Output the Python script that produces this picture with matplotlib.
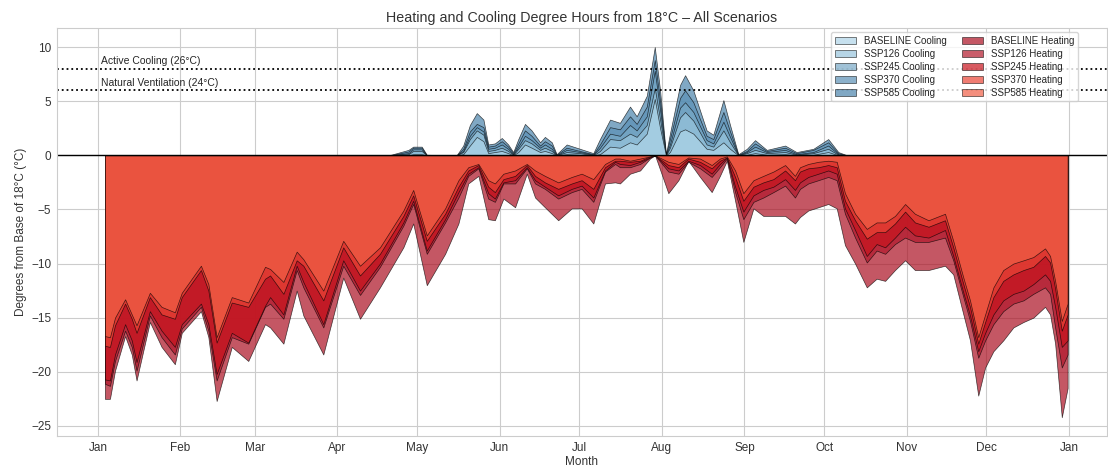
import matplotlib
matplotlib.use("Agg")
import matplotlib.pyplot as plt
import seaborn as sns

sns.set_style("whitegrid")
plt.rcParams['font.family'] = ['Liberation Sans', 'DejaVu Sans']

# ---------------- data ----------------
scenarios = ["BASELINE", "SSP126", "SSP245", "SSP370", "SSP585"]
month_ticks = [0, 31, 59, 90, 120, 151, 181, 212, 243, 273, 304, 334, 365]
month_labels = ["Jan", "Feb", "Mar", "Apr", "May", "Jun", "Jul", "Aug",
                "Sep", "Oct", "Nov", "Dec", "Jan"]

heat_days = [2.6, 4.5, 6.4, 10.2, 12.7, 14.5, 19.5, 23.9, 28.9, 31.5, 38.7, 41.5, 44.6, 50.3, 56.5, 62.8,
             64.7, 69.7, 74.7, 77.2, 84.7, 92.2, 98.5, 106.0, 114.8, 118.5, 123.6,
             130.5, 135.5, 139.2, 143.0, 146.7, 149.2, 152.4, 156.8, 161.2, 164.3, 168.0, 173.0, 178.1, 181.8, 186.2, 190.6, 194.4,
             196.2, 200.0, 203.8, 207.5, 209.4, 214.4, 218.2, 221.9, 226.3, 230.7, 233.8, 236.4, 239.5, 242.6, 246.4, 250.1, 253.9, 258.3,
             262.0, 263.9, 267.0, 270.8, 274.5, 277.7, 280.8, 284.6, 289.0, 292.7, 295.9, 299.6, 303.4, 307.1, 312.2, 318.4,
             321.5, 325.3, 327.8, 330.9, 333.5, 336.6, 340.3, 344.1, 347.9, 351.6, 356.0, 357.9, 359.8, 362.3, 364.5]

heat_baseline = [-22.5, -22.5, -19.9, -16.7, -18.4, -20.8, -15.4, -17.7, -19.3, -16.4, -14.4, -16.8, -22.7, -17.7, -19.0, -15.6,
                 -15.9, -17.4, -12.5, -14.8, -18.4, -11.3, -15.1, -12.2, -8.5, -6.3, -12.0,
                 -9.1, -6.3, -2.6, -1.9, -5.9, -6.0, -4.0, -4.8, -1.7, -3.9, -4.8, -6.0, -4.9, -4.9, -6.3, -2.6, -2.5,
                 -2.6, -1.7, -1.4, -0.3, 0.0, -3.5, -2.3, -0.5, -2.0, -3.4, -1.9, -0.5, -4.2, -8.0, -4.9, -5.6, -5.6, -5.6,
                 -6.3, -5.7, -5.1, -4.8, -4.5, -4.9, -8.3, -10.0, -12.2, -11.4, -11.6, -10.6, -9.7, -10.6, -10.6, -10.2,
                 -11.0, -14.7, -17.1, -22.2, -19.6, -18.1, -17.1, -15.9, -15.4, -15.0, -14.0, -14.7, -17.4, -24.2, -21.5]
heat_ssp126 = [-21.1, -21.3, -19.0, -16.2, -17.7, -19.9, -14.8, -16.8, -18.4, -16.0, -14.0, -16.2, -20.8, -16.8, -17.4, -14.0,
               -13.7, -15.1, -10.6, -12.2, -15.9, -10.2, -12.9, -10.3, -6.5, -4.5, -9.1,
               -6.2, -3.9, -1.9, -1.2, -4.0, -4.3, -2.6, -2.6, -1.2, -2.6, -3.1, -4.0, -3.4, -3.1, -4.3, -1.5, -0.8,
               -1.1, -1.1, -0.8, -0.2, 0.0, -1.5, -1.7, -0.6, -1.2, -2.0, -1.1, -0.3, -3.4, -5.9, -4.3, -3.9, -3.4, -2.8,
               -3.9, -3.1, -2.6, -2.3, -2.0, -2.3, -5.4, -7.6, -9.9, -8.8, -9.1, -8.2, -7.6, -8.0, -8.0, -7.6,
               -9.7, -13.1, -15.3, -18.7, -17.1, -15.6, -14.4, -13.7, -13.4, -12.8, -12.2, -12.8, -15.9, -19.6, -18.4]
heat_ssp245 = [-20.7, -20.8, -18.4, -15.6, -17.1, -19.1, -14.4, -16.2, -17.7, -15.6, -13.7, -15.6, -20.2, -16.4, -17.3, -13.9,
               -13.1, -14.7, -10.2, -11.7, -15.6, -9.7, -12.5, -10.0, -6.2, -4.2, -8.8,
               -5.9, -3.4, -1.7, -1.1, -3.5, -4.0, -2.5, -2.3, -1.1, -2.3, -2.9, -3.7, -3.1, -2.8, -3.9, -1.4, -0.6,
               -0.8, -0.9, -0.6, -0.2, 0.0, -1.2, -1.4, -0.5, -0.9, -1.7, -0.8, -0.2, -2.9, -5.2, -3.7, -3.2, -2.9, -2.2,
               -3.2, -2.5, -2.0, -1.7, -1.4, -1.7, -4.9, -6.9, -9.3, -8.2, -8.5, -7.6, -6.6, -7.4, -7.6, -6.9,
               -9.3, -12.7, -14.8, -18.1, -16.4, -14.7, -13.4, -12.8, -12.5, -11.9, -11.0, -11.6, -14.0, -17.7, -17.1]
heat_ssp370 = [-17.6, -17.7, -15.7, -13.7, -15.1, -16.4, -13.1, -14.7, -15.1, -13.1, -10.6, -12.5, -17.3, -13.6, -14.0, -11.4,
               -11.1, -12.8, -9.7, -10.2, -13.4, -8.5, -11.1, -9.1, -5.6, -3.7, -7.9,
               -5.4, -2.9, -1.4, -0.9, -2.9, -3.4, -2.2, -1.9, -0.9, -1.9, -2.5, -3.1, -2.6, -2.3, -3.1, -1.1, -0.5,
               -0.5, -0.6, -0.5, -0.1, 0.0, -0.9, -1.1, -0.3, -0.6, -1.2, -0.5, -0.2, -2.0, -4.2, -2.9, -2.5, -2.2, -1.4,
               -2.3, -1.5, -1.2, -1.1, -0.9, -1.1, -4.2, -6.0, -7.7, -7.1, -7.1, -6.3, -5.2, -6.2, -6.6, -6.0,
               -8.5, -11.9, -14.0, -17.4, -15.4, -13.1, -11.6, -11.0, -10.6, -10.3, -9.3, -9.9, -12.3, -16.2, -14.7]
heat_ssp585 = [-16.7, -16.8, -15.0, -13.3, -14.7, -15.7, -12.7, -14.0, -14.5, -12.7, -10.2, -11.9, -16.8, -13.1, -13.6, -10.3,
               -10.5, -11.7, -8.9, -9.6, -12.5, -7.9, -10.2, -8.5, -5.1, -3.2, -7.4,
               -4.9, -2.3, -1.1, -0.8, -2.3, -2.6, -1.7, -1.4, -0.8, -1.4, -1.9, -2.5, -2.0, -1.7, -2.2, -0.8, -0.3,
               -0.3, -0.5, -0.3, -0.1, 0.0, -0.6, -0.8, -0.2, -0.3, -0.9, -0.3, -0.1, -1.4, -3.5, -2.3, -1.9, -1.5, -0.9,
               -1.9, -1.1, -0.8, -0.6, -0.5, -0.6, -3.5, -5.4, -6.8, -6.2, -6.2, -5.6, -4.5, -5.4, -6.0, -5.4,
               -7.9, -11.3, -13.4, -16.8, -14.7, -12.2, -10.6, -10.0, -9.7, -9.4, -8.6, -9.3, -11.6, -15.3, -13.7]

cool_days = [2.6, 106.0, 109.8, 116.7, 118.5, 121.7, 123.6, 134.8, 137.3, 139.8, 142.4, 144.9, 146.7, 149.2,
             151.8, 154.2, 156.1, 158.0, 160.5, 163.0, 166.2, 168.0, 170.6, 172.4, 176.2, 181.2, 186.2, 188.7,
             192.5, 196.2, 200.0, 202.5, 206.3, 209.3, 211.3, 213.5, 215.0, 218.8, 220.7, 223.8, 228.8, 231.3,
             235.1, 237.6, 240.7, 243.9, 247.0, 251.4, 258.3, 262.6, 268.9, 274.5, 278.3, 281.4, 364.5]
cool_baseline = [0, 0, 0, 0, 0.1, 0.1, 0, 0, 0.1, 0.9, 1.7, 1.3, 0.2, 0.3, 0.4, 0.2, 0, 0.3, 1.0, 0.7, 0.3, 0.4,
                 0.2, 0, 0.1, 0.05, 0, 0.1, 0.8, 0.7, 1.2, 1.0, 2.0, 5.2, 2.5, 0, 0.3, 2.2, 2.4, 2.0, 0.6, 0.5,
                 1.2, 0.6, 0, 0.05, 0.2, 0.05, 0.1, 0, 0.05, 0.3, 0, 0, 0]
cool_ssp126 = [0, 0, 0, 0.1, 0.4, 0.4, 0, 0, 0.3, 1.5, 2.3, 1.9, 0.4, 0.5, 0.7, 0.4, 0.05, 0.6, 1.4, 1.1, 0.5, 0.7,
               0.4, 0, 0.3, 0.2, 0, 0.4, 1.5, 1.4, 2.0, 1.7, 2.8, 6.2, 3.3, 0, 0.7, 3.5, 4.0, 3.2, 1.0, 0.8,
               2.3, 1.2, 0, 0.2, 0.5, 0.2, 0.3, 0.05, 0.2, 0.6, 0.05, 0, 0]
cool_ssp245 = [0, 0, 0, 0.2, 0.55, 0.55, 0, 0, 0.4, 1.8, 2.6, 2.2, 0.6, 0.7, 1.0, 0.6, 0.1, 0.8, 1.8, 1.4, 0.7, 1.0,
               0.6, 0, 0.5, 0.3, 0.05, 0.7, 2.0, 1.8, 2.8, 2.3, 3.6, 7.8, 4.2, 0, 1.0, 4.4, 4.9, 4.0, 1.4, 1.1,
               3.1, 1.7, 0, 0.3, 0.8, 0.3, 0.5, 0.1, 0.3, 0.9, 0.1, 0, 0]
cool_ssp370 = [0, 0, 0, 0.35, 0.7, 0.7, 0, 0, 0.6, 2.2, 2.9, 2.6, 0.8, 0.9, 1.3, 0.8, 0.2, 1.1, 2.3, 1.8, 0.9, 1.3,
               0.9, 0.05, 0.7, 0.4, 0.1, 1.0, 2.6, 2.4, 3.6, 2.9, 4.5, 8.8, 5.0, 0.05, 1.5, 5.3, 6.0, 4.9, 1.8, 1.5,
               4.0, 2.2, 0.05, 0.4, 1.1, 0.4, 0.7, 0.2, 0.5, 1.2, 0.2, 0, 0]
cool_ssp585 = [0, 0, 0.03, 0.5, 0.8, 0.8, 0.05, 0, 0.9, 2.8, 3.9, 3.3, 1.0, 1.1, 1.6, 1.0, 0.3, 1.5, 2.9, 2.3, 1.2, 1.7,
               1.2, 0.1, 1.0, 0.6, 0.2, 1.5, 3.3, 3.0, 4.5, 3.6, 5.5, 10.0, 6.0, 0.1, 2.0, 6.5, 7.4, 6.0, 2.3, 1.9,
               5.1, 2.8, 0.1, 0.6, 1.4, 0.5, 0.9, 0.3, 0.6, 1.5, 0.3, 0.02, 0]

heat_series = [heat_baseline, heat_ssp126, heat_ssp245, heat_ssp370, heat_ssp585]
cool_series = [cool_baseline, cool_ssp126, cool_ssp245, cool_ssp370, cool_ssp585]
heat_colors = ["#ab1022", "#b2182b", "#c8141e", "#ea4537", "#f05f46"]
cool_colors = ["#aed4e7", "#98c4dc", "#78a9c6", "#5b91b6", "#4a83ab"]

# ---------------- plot ----------------
W, H = 1108, 468
fig = plt.figure(figsize=(W / 100, H / 100), dpi=100)
ax = fig.add_axes([57 / W, (H - 436) / H, (1107 - 57) / W, (436 - 28) / H])

cool_handles = [None] * 5
for i in reversed(range(5)):
    cool_handles[i] = ax.fill_between(cool_days, 0, cool_series[i], color=cool_colors[i], alpha=0.7,
                                      edgecolor="black", linewidth=0.5,
                                      label=f"{scenarios[i]} Cooling")
heat_handles = []
for i in range(5):
    heat_handles.append(ax.fill_between(heat_days, 0, heat_series[i], facecolor=heat_colors[i], alpha=0.7,
                                        edgecolor="black", linewidth=0.5,
                                        label=f"{scenarios[i]} Heating"))

ax.axhline(0, color="black", linewidth=1.0)
ax.axhline(8, color="black", linestyle=":", linewidth=1.3)
ax.axhline(6, color="black", linestyle=":", linewidth=1.3)
ax.text(1, 8.25, "Active Cooling (26°C)", fontsize=7.5, ha="left", va="bottom")
ax.text(1, 6.25, "Natural Ventilation (24°C)", fontsize=7.5, ha="left", va="bottom")

ax.set_xlim(-15.4, 379.3)
ax.set_ylim(-25.93, 11.76)
ax.set_xticks(month_ticks)
ax.set_xticklabels(month_labels)
ax.set_yticks([10, 5, 0, -5, -10, -15, -20, -25])
ax.tick_params(labelsize=8.5, colors="#333333", length=0, pad=4)
ax.set_xlabel("Month", fontsize=8.5, color="#333333", labelpad=2)
ax.set_ylabel("Degrees from Base of 18°C (°C)", fontsize=8.5, color="#333333", labelpad=3)
ax.set_title("Heating and Cooling Degree Hours from 18°C – All Scenarios", fontsize=10.3, color="#333333", pad=4)

ax.legend(handles=cool_handles + heat_handles, ncol=2, fontsize=7,
          loc="upper right", bbox_to_anchor=(1078 / W, 1 - 32 / H), bbox_transform=fig.transFigure,
          borderaxespad=0, handlelength=2.2, labelspacing=0.3, columnspacing=1.5, frameon=True)

fig.savefig("out.png", dpi=100)
